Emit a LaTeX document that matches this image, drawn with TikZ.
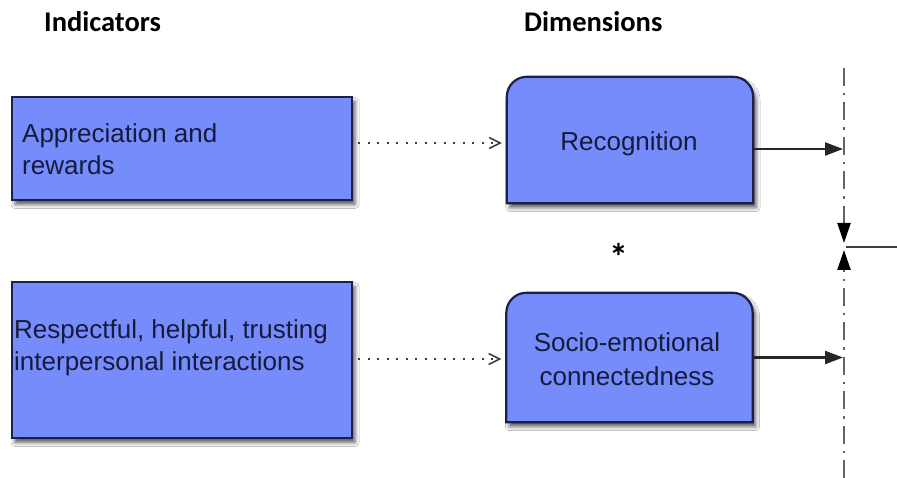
\documentclass[tikz,border=0pt]{standalone}
\usepackage{fontspec}
\setmainfont{Liberation Sans}
\newfontfamily\headfont{Carlito}
\usetikzlibrary{arrows.meta,backgrounds,shadows.blur}
\definecolor{boxfill}{RGB}{117,140,250}
\definecolor{boxline}{RGB}{28,32,72}
\definecolor{boxtext}{RGB}{22,26,60}
\definecolor{dashgray}{RGB}{100,100,100}
\definecolor{dotgray}{RGB}{60,60,60}
\begin{document}
\begin{tikzpicture}[x=1pt,y=-1pt,
  boxshade/.style={fill=boxfill, draw=boxline, line width=2.2pt,
    blur shadow={shadow xshift=3pt,shadow yshift=-4.5pt,shadow blur radius=4pt,shadow opacity=65}},
  indbox/.style={boxshade, rectangle, inner sep=0pt, minimum width=340pt},
  dimbox/.style={rectangle, inner sep=0pt, minimum width=246pt},
  boxlabel/.style={text=boxtext, font=\fontsize{26}{32}\selectfont, inner sep=0pt},
  header/.style={font=\headfont\bfseries\fontsize{28.5}{32}\selectfont, inner sep=0pt, anchor=base west},
  dotarrow/.style={draw=dotgray, line width=2pt, dash pattern=on 2pt off 7.5pt,
    -{Straight Barb[length=11pt,width=11pt,line width=1.5pt]}},
  solidarrow/.style={draw=black!85, line width=2.3pt, -{Triangle[length=18pt,width=13pt]}},
  dashline/.style={draw=dashgray, line width=2.4pt, dash pattern=on 18pt off 7pt on 2.4pt off 7pt,
    -{Triangle[length=20pt,width=13pt,black]}}
]
\useasboundingbox (0,0) rectangle (897,478);
\fill[white] (0,0) rectangle (897,478);

% headers
\node[header] (hInd) at (44,32) {Indicators};
\node[header] (hDim) at (524,32) {Dimensions};

% indicator boxes
\node[indbox, minimum height=103pt] (A) at (182,148.5) {};
\node[indbox, minimum height=156pt] (C) at (182,360) {};

% dimension boxes (shapes drawn below)
\node[dimbox, minimum height=126pt] (R) at (630,140) {};
\node[dimbox, minimum height=129pt] (S) at (629.5,357.5) {};
\path[boxshade] (R.south west) -- ([yshift=-20pt]R.north west)
  arc[start angle=180,end angle=90,radius=20pt] -- ([xshift=-20pt]R.north east)
  arc[start angle=90,end angle=0,radius=20pt] -- (R.south east) -- cycle;
\path[boxshade] (S.south west) -- ([yshift=-20pt]S.north west)
  arc[start angle=180,end angle=90,radius=20pt] -- ([xshift=-20pt]S.north east)
  arc[start angle=90,end angle=0,radius=20pt] -- (S.south east) -- cycle;

% labels
\node[boxlabel, anchor=north west, align=left] (tA) at (22,123) {Appreciation and\\rewards};
\node[boxlabel, anchor=north west, align=left] (tC) at (14,319) {Respectful, helpful, trusting\\interpersonal interactions};
\node[boxlabel, anchor=base] (tR) at (629,151) {Recognition};
\node[boxlabel, anchor=north, align=center, font=\fontsize{26}{34}\selectfont] (tS) at (627,332) {Socio-emotional\\connectedness};
\node[font=\headfont\bfseries\fontsize{38}{38}\selectfont, inner sep=0pt] (star) at (619,257) {*};

% vertical line coordinates
\coordinate (vtop) at (844,68);
\coordinate (vbot) at (844,478);
\coordinate (vdown) at (844,243);
\coordinate (vup) at (844,250);
\coordinate (hstart) at (846,247);
\coordinate (hout) at (897,247);
\coordinate (rEnd) at (843,149);
\coordinate (sEnd) at (843,357.5);

% connectors
\draw[dotarrow] ([xshift=5pt,yshift=5.5pt]A.east) -- ([xshift=-5pt,yshift=-3pt]R.west);
\draw[dotarrow] ([xshift=5pt,yshift=1pt]C.east) -- ([xshift=-5pt,yshift=-1.5pt]S.west);
\draw[solidarrow] ([yshift=-9pt]R.east) -- (rEnd);
\draw[solidarrow] (S.east) -- (sEnd);
\draw[dashline] (vtop) -- (vdown);
\draw[dashline] (vbot) -- (vup);
\draw[draw=black!75, line width=2pt] (hstart) -- (hout);
\end{tikzpicture}
\end{document}
